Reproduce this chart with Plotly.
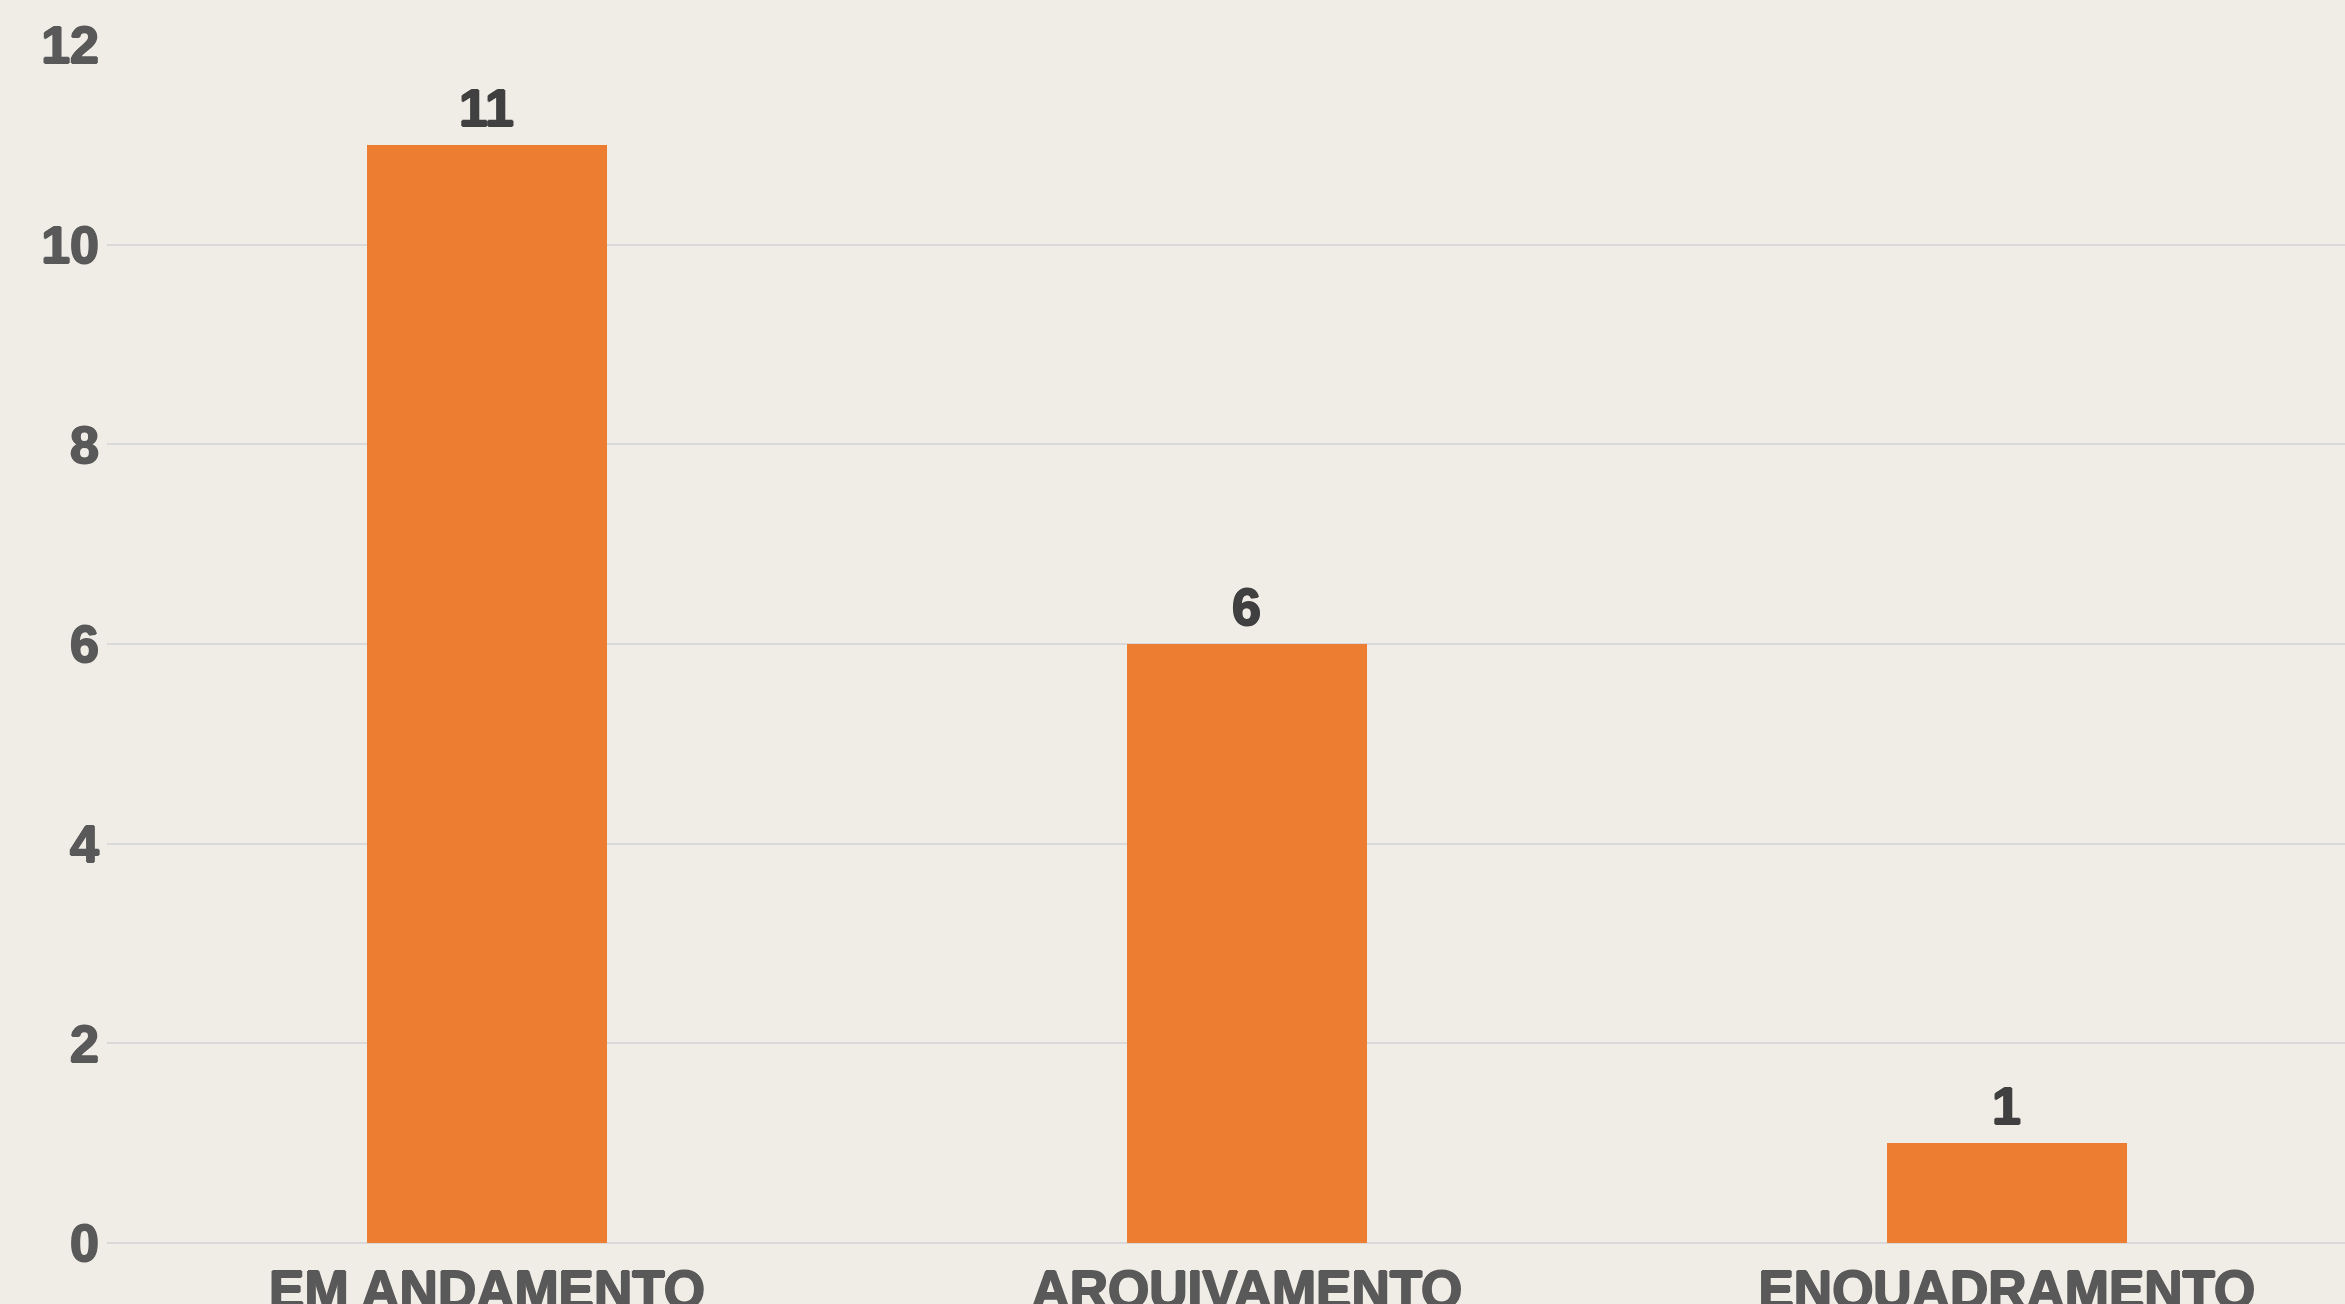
import plotly.graph_objects as go

categories = ["EM ANDAMENTO", "ARQUIVAMENTO", "ENQUADRAMENTO"]
values = [11, 6, 1]
y_ticks = [0, 2, 4, 6, 8, 10, 12]

W, H = 2345, 1304
FONT = "Liberation Sans, Arial, sans-serif"
TICK_C = "#595959"
VAL_C = "#404040"


def heavy(c):
    return f"1px 0px 0px {c}, -1px 0px 0px {c}, 0px 1px 0px {c}, 0px -1px 0px {c}"


fig = go.Figure(
    go.Bar(
        x=categories,
        y=values,
        width=0.316,
        marker=dict(color="#ED7D31", line=dict(width=0)),
        hoverinfo="x+y",
    )
)

for c, v in zip(categories, values):
    fig.add_annotation(
        x=c, y=v, xref="x", yref="y",
        text=str(v), showarrow=False,
        yanchor="bottom", yshift=6,
        font=dict(family=FONT, size=52, color=VAL_C, weight="bold", shadow=heavy(VAL_C)),
    )

fig.update_layout(
    width=W,
    height=H,
    margin=dict(l=107, r=0, t=45, b=61, pad=0, autoexpand=False),
    paper_bgcolor="#F0ECE6",
    plot_bgcolor="#F0ECE6",
    showlegend=False,
    bargap=0,
    xaxis=dict(
        range=[-0.5, 2.445],
        automargin=False,
        showgrid=False,
        showline=False,
        ticks="",
        tickfont=dict(family=FONT, size=53, color=TICK_C, weight="bold", shadow=heavy(TICK_C)),
        ticklabelstandoff=11,
        fixedrange=True,
    ),
    yaxis=dict(
        range=[0, 12],
        automargin=False,
        tickvals=y_ticks,
        showgrid=True,
        gridcolor="#D9D9D9",
        gridwidth=2,
        zeroline=True,
        zerolinecolor="#D9D9D9",
        zerolinewidth=2,
        showline=False,
        ticks="",
        tickfont=dict(family=FONT, size=52, color=TICK_C, weight="bold", shadow=heavy(TICK_C)),
        ticklabelstandoff=7,
        fixedrange=True,
    ),
)

fig.write_html(
    "out.html",
    config={"displayModeBar": False},
    post_script="document.body.style.margin='0';document.body.style.overflow='hidden';",
)
